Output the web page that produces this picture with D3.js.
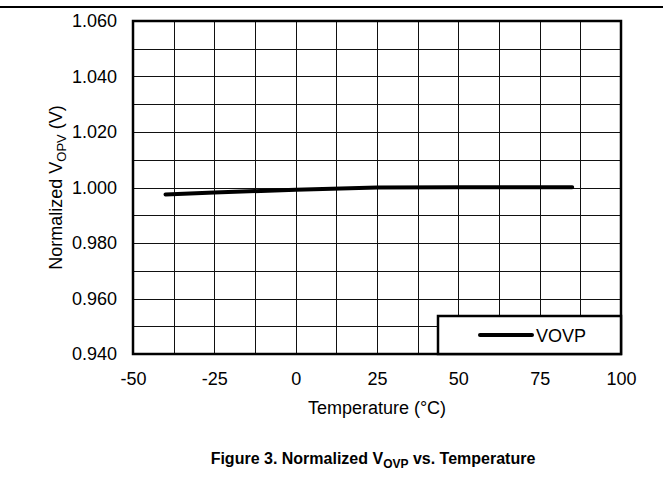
<!DOCTYPE html>
<html><head><meta charset="utf-8">
<script src="https://cdn.jsdelivr.net/npm/d3@7"></script>
<style>body{margin:0;background:#fff}text{font-family:"Liberation Sans",Arial,sans-serif}</style>
</head><body>
<svg id="c" width="663" height="497"></svg>
<script>
const temps = [-40, -25, 0, 25, 50, 85];
const vovp = [0.9975, 0.9982, 0.9992, 1.0000, 1.0001, 1.0001];
const xTicks = [-50, -25, 0, 25, 50, 75, 100];
const yTicks = [0.940, 0.960, 0.980, 1.000, 1.020, 1.040, 1.060];
const seriesName = "VOVP";

const svg = d3.select("#c");
const FF = "Liberation Sans, Arial, sans-serif";
const L = 133, R = 621, T = 21, B = 354;
const x = d3.scaleLinear().domain([-50, 100]).range([L, R]);
const y = d3.scaleLinear().domain([0.940, 1.060]).range([B, T]);

// top separator
svg.append("line").attr("x1", 0).attr("x2", 663).attr("y1", 7).attr("y2", 7)
  .attr("stroke", "#000").attr("stroke-width", 2);

// grid
const gx = d3.range(-50, 100.01, 12.5);
const gy = d3.range(0, 13).map(i => 0.940 + i * 0.01);
svg.append("g").selectAll("line").data(gx).join("line")
  .attr("x1", d => Math.round(x(d)) + 0.5).attr("x2", d => Math.round(x(d)) + 0.5)
  .attr("y1", T).attr("y2", B).attr("stroke", "#111").attr("stroke-width", 1);
svg.append("g").selectAll("line").data(gy).join("line")
  .attr("y1", d => Math.round(y(d)) + 0.5).attr("y2", d => Math.round(y(d)) + 0.5)
  .attr("x1", L).attr("x2", R).attr("stroke", "#111").attr("stroke-width", 1);

// axes labels
const xa = d3.axisBottom(x).tickValues(xTicks).tickSize(0).tickPadding(18).tickFormat(d => String(d));
const ga = svg.append("g").attr("transform", `translate(0,${B})`).call(xa)
  .attr("font-family", FF).attr("font-size", 18);
ga.select(".domain").remove();
ga.selectAll("text").attr("fill", "#000");
const ya = d3.axisLeft(y).tickValues(yTicks).tickSize(0).tickPadding(16).tickFormat(d3.format(".3f"));
const gya = svg.append("g").attr("transform", `translate(${L},0)`).call(ya)
  .attr("font-family", FF).attr("font-size", 18);
gya.select(".domain").remove();
gya.selectAll("text").attr("fill", "#000");

// frame
svg.append("rect").attr("x", L).attr("y", T).attr("width", R - L).attr("height", B - T)
  .attr("fill", "none").attr("stroke", "#000").attr("stroke-width", 2.5);

// data line
const line = d3.line().x((d, i) => x(temps[i])).y(d => y(d));
svg.append("path").datum(vovp).attr("d", line).attr("fill", "none")
  .attr("stroke", "#000").attr("stroke-width", 4).attr("stroke-linecap", "round").attr("stroke-linejoin", "round");

// legend
svg.append("rect").attr("x", 438).attr("y", 316).attr("width", R - 438).attr("height", B - 316)
  .attr("fill", "#fff").attr("stroke", "#000").attr("stroke-width", 2.5);
svg.append("line").attr("x1", 480).attr("x2", 532).attr("y1", 335).attr("y2", 335)
  .attr("stroke", "#000").attr("stroke-width", 4).attr("stroke-linecap", "round");
svg.append("text").attr("x", 536).attr("y", 342).attr("font-size", 18).text(seriesName);

// axis titles
svg.append("text").attr("x", 377).attr("y", 414).attr("text-anchor", "middle")
  .attr("font-size", 18).text("Temperature (°C)");
const yt = svg.append("text").attr("transform", `translate(62,${(T + B) / 2}) rotate(-90)`)
  .attr("text-anchor", "middle").attr("font-size", 18);
yt.append("tspan").text("Normalized V");
yt.append("tspan").attr("font-size", 13).attr("dy", 4).text("OPV");
yt.append("tspan").attr("dy", -4).text(" (V)");

// caption
const cap = svg.append("text").attr("x", 373).attr("y", 464).attr("text-anchor", "middle")
  .attr("font-size", 16).attr("font-weight", "bold");
cap.append("tspan").text("Figure 3. Normalized V");
cap.append("tspan").attr("font-size", 12).attr("dy", 4).text("OVP");
cap.append("tspan").attr("dy", -4).text(" vs. Temperature");
</script>
</body></html>
